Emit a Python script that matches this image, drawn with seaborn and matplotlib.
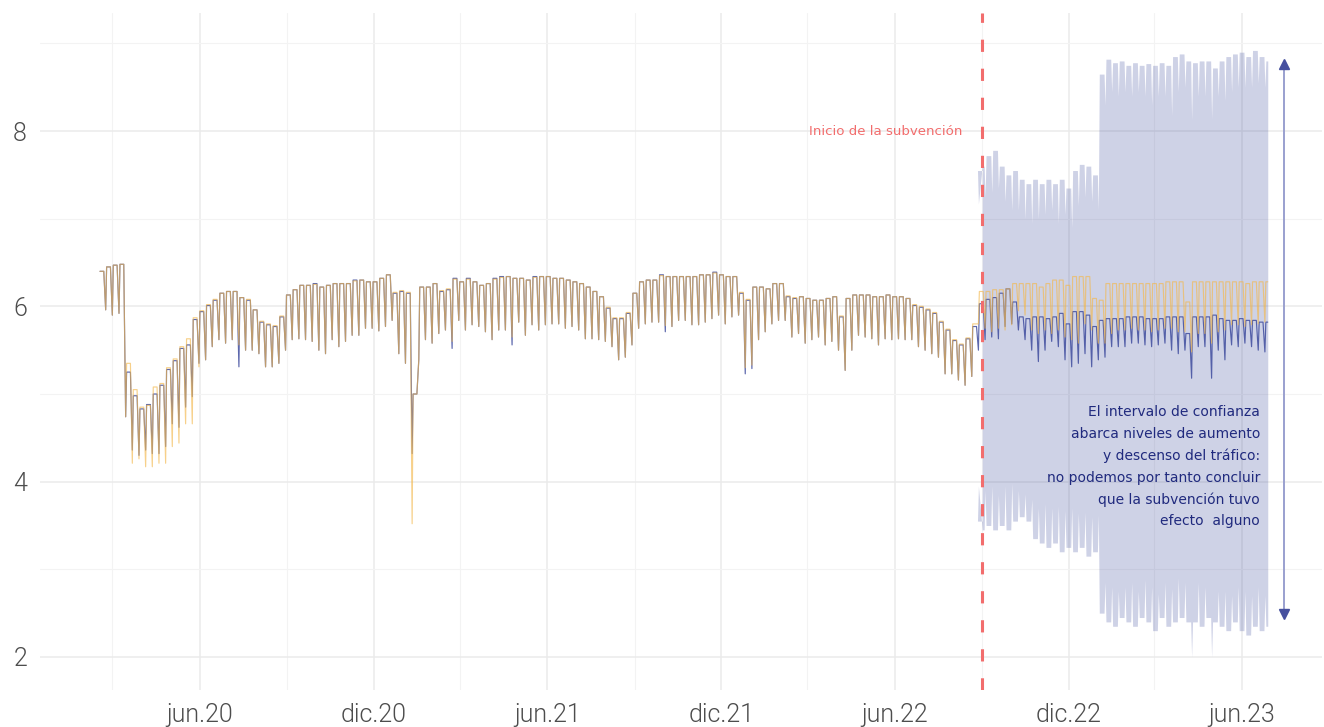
import pandas as pd
import matplotlib
matplotlib.use("Agg")
import matplotlib.pyplot as plt
from matplotlib.ticker import FixedLocator, FixedFormatter
import seaborn as sns

# ---------------------------------------------------------------------------
# Data: weekly readings of (log) daily traffic.  Week 0 starts Monday 2020-02-17.
# "weekday" = Monday-Friday level, "sunday" = weekend trough of that week.
# ---------------------------------------------------------------------------
FIRST_MONDAY = "2020-02-17"
LAST_DAY = "2023-06-28"
SUBSIDY_START = "2022-09-01"

obs_weekday = [
    6.40, 6.45, 6.47, 6.48, 5.25, 4.98, 4.83, 4.88, 5.00, 5.10,
    5.28, 5.38, 5.52, 5.56, 5.85, 5.94, 6.01, 6.07, 6.15, 6.17,
    6.17, 6.10, 6.07, 5.96, 5.82, 5.79, 5.77, 5.88, 6.13, 6.19,
    6.24, 6.24, 6.26, 6.22, 6.24, 6.26, 6.26, 6.26, 6.30, 6.30,
    6.28, 6.28, 6.32, 6.36, 6.15, 6.17, 6.15, 5.00, 6.22, 6.22,
    6.26, 6.17, 6.19, 6.32, 6.28, 6.32, 6.28, 6.24, 6.26, 6.32,
    6.34, 6.34, 6.32, 6.32, 6.30, 6.34, 6.34, 6.34, 6.32, 6.32,
    6.30, 6.28, 6.26, 6.22, 6.17, 6.11, 5.98, 5.86, 5.86, 5.92,
    6.15, 6.28, 6.30, 6.30, 6.36, 6.34, 6.34, 6.34, 6.34, 6.34,
    6.36, 6.36, 6.39, 6.36, 6.34, 6.34, 6.15, 6.07, 6.22, 6.22,
    6.20, 6.26, 6.26, 6.11, 6.09, 6.11, 6.09, 6.07, 6.07, 6.09,
    6.11, 5.88, 6.09, 6.13, 6.13, 6.13, 6.11, 6.11, 6.13, 6.11,
    6.11, 6.09, 6.01, 5.99, 5.96, 5.92, 5.82, 5.73, 5.61, 5.56,
    5.63, 5.77, 6.03, 6.08, 6.10, 6.15, 6.20, 6.05, 5.88, 5.86,
    5.88, 5.88, 5.86, 5.88, 5.92, 5.80, 5.94, 5.94, 5.90, 5.77,
    5.84, 5.86, 5.86, 5.86, 5.88, 5.88, 5.88, 5.86, 5.86, 5.86,
    5.88, 5.88, 5.88, 5.69, 5.88, 5.88, 5.88, 5.90, 5.86, 5.84,
    5.84, 5.86, 5.84, 5.84, 5.82, 5.82,
]
obs_sunday = [
    5.96, 5.90, 5.92, 4.74, 4.36, 4.30, 4.36, 4.32, 4.32, 4.40,
    4.66, 4.62, 4.85, 4.97, 5.35, 5.39, 5.54, 5.62, 5.58, 5.62,
    5.31, 5.50, 5.50, 5.46, 5.31, 5.31, 5.35, 5.50, 5.62, 5.63,
    5.62, 5.60, 5.50, 5.46, 5.62, 5.54, 5.60, 5.67, 5.67, 5.75,
    5.75, 5.72, 5.77, 5.84, 5.46, 5.35, 4.32, 5.39, 5.62, 5.58,
    5.69, 5.73, 5.52, 5.84, 5.73, 5.79, 5.77, 5.71, 5.62, 5.73,
    5.73, 5.56, 5.82, 5.67, 5.79, 5.73, 5.79, 5.80, 5.80, 5.75,
    5.77, 5.73, 5.63, 5.63, 5.62, 5.60, 5.54, 5.39, 5.42, 5.56,
    5.75, 5.80, 5.82, 5.82, 5.71, 5.77, 5.84, 5.84, 5.79, 5.79,
    5.82, 5.86, 5.90, 5.80, 5.88, 5.90, 5.23, 5.29, 5.62, 5.71,
    5.80, 5.84, 5.84, 5.65, 5.69, 5.58, 5.62, 5.65, 5.56, 5.60,
    5.50, 5.27, 5.50, 5.67, 5.65, 5.63, 5.56, 5.63, 5.62, 5.63,
    5.62, 5.62, 5.54, 5.50, 5.46, 5.42, 5.23, 5.23, 5.16, 5.10,
    5.20, 5.50, 5.62, 5.65, 5.63, 5.77, 5.80, 5.73, 5.62, 5.50,
    5.37, 5.50, 5.60, 5.54, 5.39, 5.31, 5.35, 5.46, 5.31, 5.39,
    5.42, 5.54, 5.54, 5.54, 5.58, 5.58, 5.56, 5.54, 5.56, 5.58,
    5.50, 5.46, 5.50, 5.18, 5.54, 5.54, 5.18, 5.50, 5.39, 5.56,
    5.54, 5.58, 5.54, 5.50, 5.48,
]

pred_weekday = [
    6.40, 6.45, 6.47, 6.48, 5.35, 5.05, 4.85, 4.87, 5.08, 5.12,
    5.30, 5.40, 5.54, 5.63, 5.87, 5.95, 6.02, 6.08, 6.15, 6.17,
    6.17, 6.10, 6.08, 5.96, 5.83, 5.80, 5.78, 5.89, 6.13, 6.19,
    6.24, 6.24, 6.25, 6.22, 6.24, 6.26, 6.26, 6.26, 6.29, 6.30,
    6.28, 6.28, 6.32, 6.36, 6.16, 6.18, 6.16, 5.00, 6.22, 6.22,
    6.26, 6.18, 6.20, 6.31, 6.28, 6.31, 6.28, 6.24, 6.26, 6.31,
    6.33, 6.34, 6.32, 6.32, 6.30, 6.33, 6.34, 6.34, 6.32, 6.32,
    6.30, 6.28, 6.26, 6.22, 6.17, 6.11, 5.99, 5.87, 5.87, 5.93,
    6.15, 6.28, 6.30, 6.30, 6.35, 6.34, 6.34, 6.34, 6.34, 6.34,
    6.36, 6.36, 6.38, 6.36, 6.34, 6.34, 6.16, 6.08, 6.22, 6.22,
    6.20, 6.26, 6.26, 6.12, 6.10, 6.11, 6.09, 6.07, 6.07, 6.09,
    6.11, 5.89, 6.09, 6.13, 6.13, 6.13, 6.11, 6.11, 6.13, 6.11,
    6.11, 6.09, 6.02, 6.00, 5.97, 5.93, 5.83, 5.74, 5.62, 5.57,
    5.64, 5.80, 6.17, 6.17, 6.19, 6.19, 6.20, 6.26, 6.26, 6.26,
    6.26, 6.22, 6.26, 6.30, 6.30, 6.24, 6.34, 6.34, 6.34, 6.09,
    6.07, 6.26, 6.26, 6.26, 6.26, 6.26, 6.26, 6.26, 6.26, 6.26,
    6.28, 6.28, 6.28, 6.05, 6.28, 6.28, 6.28, 6.28, 6.28, 6.28,
    6.28, 6.28, 6.26, 6.28, 6.28, 6.28,
]
pred_sunday = [
    5.96, 5.90, 5.92, 4.74, 4.21, 4.26, 4.17, 4.17, 4.21, 4.21,
    4.40, 4.44, 4.66, 4.66, 5.31, 5.39, 5.54, 5.62, 5.58, 5.62,
    5.56, 5.50, 5.50, 5.46, 5.31, 5.31, 5.35, 5.50, 5.62, 5.63,
    5.62, 5.60, 5.50, 5.46, 5.62, 5.54, 5.60, 5.67, 5.67, 5.75,
    5.75, 5.72, 5.77, 5.84, 5.46, 5.35, 3.52, 5.39, 5.62, 5.58,
    5.69, 5.73, 5.60, 5.84, 5.73, 5.79, 5.77, 5.71, 5.62, 5.73,
    5.73, 5.65, 5.82, 5.67, 5.79, 5.73, 5.79, 5.80, 5.80, 5.75,
    5.77, 5.73, 5.63, 5.63, 5.62, 5.60, 5.54, 5.39, 5.42, 5.56,
    5.75, 5.80, 5.82, 5.82, 5.78, 5.77, 5.84, 5.84, 5.79, 5.79,
    5.82, 5.86, 5.90, 5.80, 5.88, 5.90, 5.30, 5.33, 5.62, 5.71,
    5.80, 5.84, 5.84, 5.65, 5.69, 5.58, 5.62, 5.65, 5.56, 5.60,
    5.50, 5.27, 5.50, 5.67, 5.65, 5.63, 5.56, 5.63, 5.62, 5.63,
    5.62, 5.62, 5.54, 5.50, 5.46, 5.42, 5.23, 5.23, 5.16, 5.10,
    5.20, 5.80, 5.75, 5.71, 5.75, 5.73, 5.79, 5.95, 5.90, 5.73,
    5.69, 5.73, 5.69, 5.73, 5.65, 5.62, 5.58, 5.80, 5.73, 5.58,
    5.58, 5.69, 5.73, 5.73, 5.75, 5.73, 5.73, 5.71, 5.73, 5.75,
    5.75, 5.71, 5.71, 5.48, 5.69, 5.69, 5.58, 5.71, 5.73, 5.79,
    5.79, 5.77, 5.79, 5.80, 5.82,
]

# Confidence interval of the counterfactual, from week 131 (subsidy start) on
BAND_FIRST_WEEK = 131
upper_weekday = [
    7.55, 7.60, 7.72, 7.78, 7.60, 7.50, 7.55, 7.45, 7.40, 7.45,
    7.40, 7.45, 7.40, 7.45, 7.35, 7.55, 7.62, 7.60, 7.50, 8.65,
    8.82, 8.78, 8.80, 8.75, 8.78, 8.75, 8.77, 8.75, 8.78, 8.75,
    8.85, 8.88, 8.80, 8.78, 8.80, 8.80, 8.72, 8.80, 8.85, 8.88,
    8.90, 8.85, 8.92, 8.85, 8.80,
]
upper_sunday = [
    7.17, 7.25, 7.30, 7.35, 7.20, 7.10, 7.10, 7.00, 6.95, 7.00,
    7.05, 7.10, 6.95, 7.05, 6.90, 7.15, 7.25, 7.20, 7.10, 8.30,
    8.45, 8.40, 8.45, 8.40, 8.45, 8.40, 8.30, 8.40, 8.40, 8.18,
    8.45, 8.50, 8.13, 8.40, 8.40, 8.14, 8.40, 8.35, 8.45, 8.50,
    8.50, 8.50, 8.55, 8.50,
]
lower_weekday = [
    3.55, 3.45, 3.50, 3.45, 3.50, 3.45, 3.55, 3.60, 3.55, 3.35,
    3.30, 3.25, 3.30, 3.20, 3.25, 3.20, 3.25, 3.15, 3.20, 2.50,
    2.40, 2.35, 2.45, 2.40, 2.35, 2.45, 2.40, 2.30, 2.45, 2.35,
    2.40, 2.45, 2.40, 2.40, 2.35, 2.45, 2.40, 2.35, 2.30, 2.40,
    2.30, 2.25, 2.35, 2.30, 2.35,
]
lower_sunday = [
    3.95, 3.90, 3.95, 3.85, 3.95, 3.98, 3.90, 3.86, 3.80, 3.70,
    3.75, 3.70, 3.72, 3.67, 3.70, 3.64, 3.65, 3.60, 3.62, 2.85,
    2.80, 2.75, 2.80, 2.85, 2.75, 2.88, 2.80, 2.72, 2.85, 2.78,
    2.90, 2.85, 2.00, 2.85, 2.80, 2.00, 2.75, 2.75, 2.70, 2.80,
    2.75, 2.70, 2.80, 2.70,
]

# Axis breaks and labels
major_dates = ["2020-06-01", "2020-12-01", "2021-06-01", "2021-12-01",
               "2022-06-01", "2022-12-01", "2023-06-01"]
major_labels = ["jun.20", "dic.20", "jun.21", "dic.21", "jun.22", "dic.22", "jun.23"]
minor_dates = ["2020-03-01", "2020-09-01", "2021-03-01", "2021-09-01",
               "2022-03-01", "2022-09-01", "2023-03-01"]
y_major = [2, 4, 6, 8]
y_minor = [3, 5, 7, 9]

subsidy_label = "Inicio de la subvención"
note_lines = [
    "El intervalo de confianza",
    "abarca niveles de aumento",
    "y descenso del tráfico:",
    "no podemos por tanto concluir",
    "que la subvención tuvo",
    "efecto  alguno",
]

# Interval arrow (bottom, top)
arrow_date = "2023-07-15"
arrow_span = (2.45, 8.80)


def weekly_points(weekday, sunday, first_week=0, start=None, plateau_end=4):
    """Weekday level from Monday to `plateau_end`, weekend trough on Sunday."""
    t0 = pd.Timestamp(FIRST_MONDAY)
    last = pd.Timestamp(LAST_DAY)
    start = None if start is None else pd.Timestamp(start)
    rows = []
    for k, hi in enumerate(weekday):
        monday = t0 + pd.Timedelta(days=7 * (first_week + k))
        first = monday if start is None else max(monday, start)
        end = min(monday + pd.Timedelta(days=plateau_end), last)
        rows.append((first, hi))
        rows.append((end, hi))
        if k < len(sunday):
            rows.append((monday + pd.Timedelta(days=6), sunday[k]))
    return pd.DataFrame(rows, columns=["fecha", "valor"])


observed = weekly_points(obs_weekday, obs_sunday)
predicted = weekly_points(pred_weekday, pred_sunday)
upper = weekly_points(upper_weekday, upper_sunday, BAND_FIRST_WEEK, SUBSIDY_START, 5)
lower = weekly_points(lower_weekday, lower_sunday, BAND_FIRST_WEEK, SUBSIDY_START, 5)

# ---------------------------------------------------------------------------
sns.set_theme(style="whitegrid")
plt.rcParams["font.family"] = ["DejaVu Sans"]

W, H = 1324, 727
fig = plt.figure(figsize=(W / 100, H / 100), dpi=100)
ax = fig.add_axes([40 / W, 1 - 690 / H, (1322 - 40) / W, (690 - 13) / H])
ax.set_axisbelow(True)

BLUE = "#3f4c9e"
ORANGE = "#f3b84c"
RED = "#f26d6d"

ax.fill_between(upper["fecha"], lower["valor"], upper["valor"],
                color=BLUE, alpha=0.25, linewidth=0, zorder=1)

sns.lineplot(data=observed, x="fecha", y="valor", ax=ax, color=BLUE,
             alpha=0.85, linewidth=0.85, estimator=None, sort=False, zorder=3)
sns.lineplot(data=predicted, x="fecha", y="valor", ax=ax, color=ORANGE,
             alpha=0.65, linewidth=0.85, estimator=None, sort=False, zorder=4)

ax.axvline(pd.Timestamp(SUBSIDY_START), color=RED, linewidth=2.2,
           linestyle=(0, (4, 5.5)), zorder=5)
ax.text(pd.Timestamp("2022-08-11"), 8.0, subsidy_label, ha="right", va="center",
        color=RED, fontsize=9.6, zorder=6)

note_y = [4.80, 4.54, 4.29, 4.04, 3.79, 3.55]
for line, yy in zip(note_lines, note_y):
    ax.text(pd.Timestamp("2023-06-20"), yy, line, ha="right", va="center",
            color="#202a7e", fontsize=10, zorder=6)

ax_x = pd.Timestamp(arrow_date)
ax.plot([ax_x, ax_x], [arrow_span[0] + 0.05, arrow_span[1] - 0.05],
        color="#9aa0cf", linewidth=1.4, zorder=5)
ax.plot([ax_x], [arrow_span[1] - 0.04], marker="^", markersize=6.5,
        color="#46509f", linestyle="none", zorder=6)
ax.plot([ax_x], [arrow_span[0] + 0.04], marker="v", markersize=6.5,
        color="#46509f", linestyle="none", zorder=6)

# Axes, ticks and grid
ax.set_xlim(pd.Timestamp("2019-12-16"), pd.Timestamp("2023-08-24"))
ax.set_ylim(1.623, 9.347)
ax.xaxis.set_major_locator(FixedLocator(
    [matplotlib.dates.date2num(pd.Timestamp(d)) for d in major_dates]))
ax.xaxis.set_major_formatter(FixedFormatter(major_labels))
ax.xaxis.set_minor_locator(FixedLocator(
    [matplotlib.dates.date2num(pd.Timestamp(d)) for d in minor_dates]))
ax.yaxis.set_major_locator(FixedLocator(y_major))
ax.yaxis.set_minor_locator(FixedLocator(y_minor))
ax.set_yticklabels([str(v) for v in y_major])

ax.grid(which="major", color="#ebebeb", linewidth=1.1)
ax.grid(which="minor", color="#f3f3f3", linewidth=0.8)
ax.tick_params(which="major", length=4.3, width=0.8, color="#333333",
               labelsize=18, labelcolor="#4d4d4d", pad=5)
ax.tick_params(which="minor", length=0)
for lab in ax.get_xticklabels() + ax.get_yticklabels():
    lab.set_fontfamily(["Roboto", "DejaVu Sans"])
    lab.set_fontweight(300)
for s in ax.spines.values():
    s.set_visible(False)
ax.set_xlabel("")
ax.set_ylabel("")
ax.set_facecolor("white")
fig.patch.set_facecolor("white")

fig.savefig("out.png", dpi=100)
